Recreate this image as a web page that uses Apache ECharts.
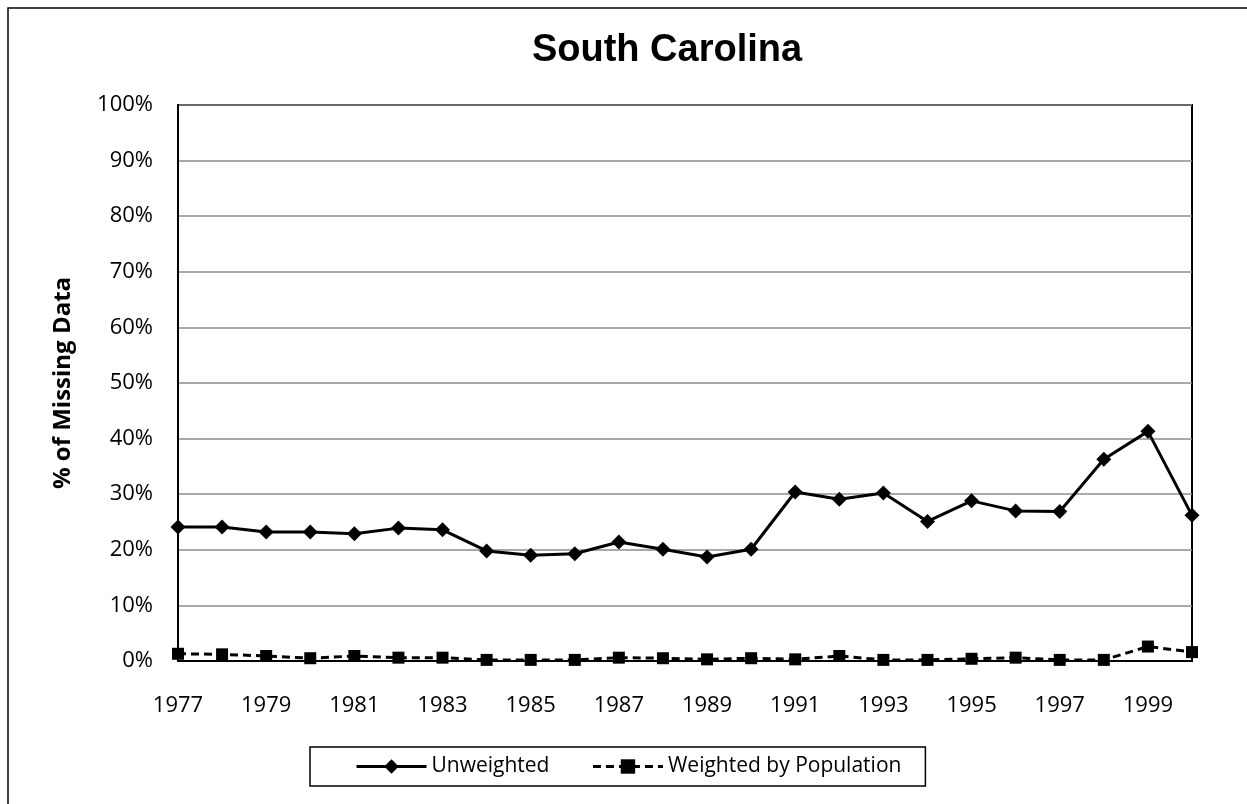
<!DOCTYPE html>
<html>
<head>
<meta charset="utf-8">
<script src="https://cdn.jsdelivr.net/npm/echarts@6/dist/echarts.min.js"></script>
<style>
  html, body { margin: 0; padding: 0; background: #fff; }
  #chart { width: 1247px; height: 804px; }
</style>
</head>
<body>
<div id="chart"></div>
<script>
// Years on the category axis
const years = ['1977','1978','1979','1980','1981','1982','1983','1984','1985','1986','1987','1988',
               '1989','1990','1991','1992','1993','1994','1995','1996','1997','1998','1999','2000'];

// Share of records with missing data, in percent
const unweighted = [24.1, 24.1, 23.2, 23.2, 22.9, 23.9, 23.6, 19.8, 19.0, 19.3, 21.4, 20.1,
                    18.7, 20.1, 30.4, 29.1, 30.2, 25.1, 28.8, 27.0, 26.9, 36.3, 41.3, 26.2];
const weighted = [1.3, 1.2, 0.9, 0.5, 0.9, 0.6, 0.6, 0.2, 0.2, 0.2, 0.6, 0.5,
                  0.3, 0.5, 0.3, 0.9, 0.2, 0.2, 0.4, 0.6, 0.2, 0.2, 2.6, 1.6];

const chart = echarts.init(document.getElementById('chart'), null, { renderer: 'canvas' });

const bodyFont = '"Open Sans", "Noto Sans", sans-serif';
const tickFont = { fontFamily: bodyFont, fontSize: 22, color: '#000' };

chart.setOption({
  animation: false,
  backgroundColor: '#fff',
  title: {
    text: 'South Carolina',
    left: 662,
    top: 27,
    textAlign: 'center',
    textStyle: { fontFamily: '"Liberation Sans", Arial, sans-serif', fontWeight: 'bold', fontSize: 38, color: '#000' }
  },
  graphic: [{
    type: 'rect',
    shape: { x: 8, y: 8, width: 1260, height: 820 },
    style: { fill: 'none', stroke: '#000', lineWidth: 1.5 },
    silent: true
  }],
  grid: {
    left: 178, top: 105, width: 1014, height: 556,
    show: true, borderColor: '#000', borderWidth: 2, backgroundColor: 'transparent'
  },
  legend: {
    left: 310, top: 747,
    itemWidth: 70, itemHeight: 18, itemGap: 42,
    padding: [9, 24, 9, 45],
    borderColor: '#000', borderWidth: 1.5,
    textStyle: { fontFamily: bodyFont, fontSize: 21, color: '#000' },
    lineStyle: { width: 3 },
    data: ['Unweighted', 'Weighted by Population']
  },
  xAxis: {
    type: 'category',
    data: years,
    boundaryGap: false,
    axisLine: { lineStyle: { color: '#000', width: 2 } },
    axisTick: { show: false },
    axisLabel: Object.assign({ interval: 1, margin: 34 }, tickFont),
    splitLine: { show: false }
  },
  yAxis: {
    type: 'value',
    min: 0, max: 100, interval: 10,
    name: '% of Missing Data',
    nameLocation: 'middle',
    nameGap: 103,
    nameRotate: 90,
    nameTextStyle: { fontFamily: bodyFont, fontWeight: 'bold', fontSize: 24, color: '#000' },
    axisLine: { show: true, lineStyle: { color: '#000', width: 2 } },
    axisTick: { show: false },
    axisLabel: Object.assign({ formatter: '{value}%', margin: 25 }, tickFont),
    splitLine: { lineStyle: { color: '#8c8c8c', width: 1.5 } }
  },
  series: [
    {
      name: 'Unweighted',
      type: 'line',
      data: unweighted,
      symbol: 'diamond',
      symbolSize: 15,
      itemStyle: { color: '#000' },
      lineStyle: { color: '#000', width: 3 }
    },
    {
      name: 'Weighted by Population',
      type: 'line',
      data: weighted,
      symbol: 'rect',
      symbolSize: 12,
      itemStyle: { color: '#000' },
      lineStyle: { color: '#000', width: 3, type: [8, 5] }
    }
  ]
});
</script>
</body>
</html>
